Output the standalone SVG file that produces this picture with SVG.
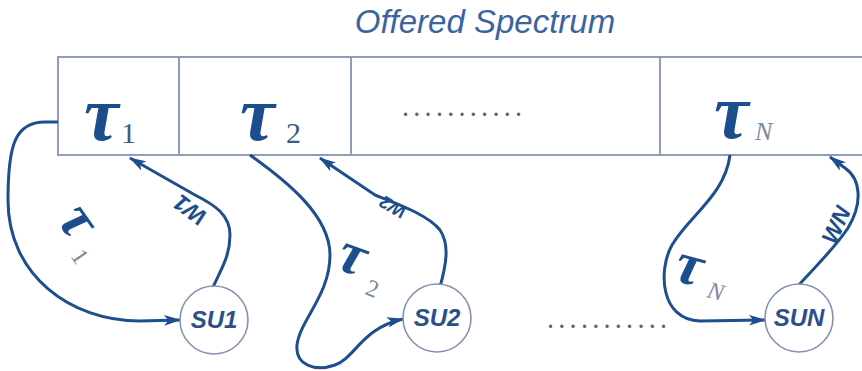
<svg xmlns="http://www.w3.org/2000/svg" width="862" height="371" viewBox="0 0 862 371">
<defs>
<style>
.title{font-family:"Liberation Sans",Arial,sans-serif;font-style:italic;font-size:33px;fill:#3a64a0}
.box{fill:none;stroke:#8d9dbb;stroke-width:2}
.tau{font-family:"Liberation Serif","DejaVu Serif",serif;font-style:italic;font-weight:bold;font-size:78px;fill:#1c4d8c}
.sub{font-family:"Liberation Serif",serif;font-size:30px;fill:#3d5a85}
.subn{font-family:"Liberation Serif",serif;font-style:italic;font-size:26px;fill:#7a8aa3}
.ltau{font-family:"Liberation Serif","DejaVu Serif",serif;font-style:italic;font-weight:bold;font-size:60px;fill:#1c4d8c}
.lsub{font-family:"Liberation Serif",serif;font-size:24px;fill:#7a8aa3}
.lsubn{font-family:"Liberation Serif",serif;font-style:italic;font-size:24px;fill:#7a8aa3}
.w{font-family:"Liberation Sans",Arial,sans-serif;font-style:italic;font-weight:bold;font-size:23px;fill:#1c4d8c}
.dots{font-family:"Liberation Serif",serif;font-weight:bold;font-size:20px;fill:#55627a;letter-spacing:6.3px}
.node circle{fill:#ffffff;stroke:#8392b0;stroke-width:1.6}
.node text{font-family:"Liberation Sans",Arial,sans-serif;font-style:italic;font-weight:bold;font-size:24px;fill:#2b4f88;text-anchor:middle}
.conn path{fill:none;stroke:#1d4f8f;stroke-width:3;marker-end:url(#arr)}
</style>
<marker id="arr" viewBox="0 0 16 10" refX="15" refY="5" markerWidth="17" markerHeight="11" markerUnits="userSpaceOnUse" orient="auto">
<path d="M0,0 L16,5 L0,10 L4,5 z" fill="#1d4f8f"/>
</marker>
</defs>
<rect width="862" height="371" fill="#ffffff"/>
<text class="title" x="485" y="33" text-anchor="middle">Offered Spectrum</text>
<g id="spectrum">
<path class="box" d="M870,57 L58,57 L58,155 L870,155"/>
<line class="box" x1="179" y1="57" x2="179" y2="155"/>
<line class="box" x1="351" y1="57" x2="351" y2="155"/>
<line class="box" x1="660" y1="57" x2="660" y2="155"/>
<text class="tau" x="84" y="140">τ</text><text class="sub" x="121" y="143">1</text>
<text class="tau" x="240" y="140">τ</text><text class="sub" x="286" y="143">2</text>
<text class="dots" x="403" y="116">...........</text>
<text class="tau" x="714" y="138">τ</text><text class="subn" x="755" y="140">N</text>
</g>
<g class="conn" id="connectors">
<path d="M58,122 L45,122 C15,122 8,145 8,200 C8,275 70,321 140,321 L180,320"/>
<path d="M213,287 C222,268 230,255 230,235 C230,215 215,205 195,195 L130,158"/>
<path d="M250,155 C285,180 330,215 330,255 C330,295 300,320 297,345 C295,365 315,372 335,365 C355,358 362,328 403,319"/>
<path d="M440,287 C446,265 450,245 440,230 C428,215 400,205 375,195 L320,158"/>
<path d="M730,155 C725,195 690,215 672,245 C658,270 660,320 700,321 L765,320"/>
<path d="M797,287 C812,270 835,248 848,228 C862,205 862,180 845,168 L830,157"/>
</g>
<g id="labels">
<text class="ltau" transform="translate(56,220) rotate(55)">τ</text>
<text class="lsub" transform="translate(70,256) rotate(55)">1</text>
<text class="w" transform="translate(190,210) rotate(217)" text-anchor="middle" dominant-baseline="central">W1</text>
<text class="ltau" transform="translate(334,268) rotate(20)">τ</text>
<text class="lsub" transform="translate(364,294) rotate(20)">2</text>
<text class="w" style="font-size:18px" transform="translate(393,207) rotate(210)" text-anchor="middle" dominant-baseline="central">W2</text>
<text class="ltau" transform="translate(672,280) rotate(15)">τ</text>
<text class="lsubn" transform="translate(706,297) rotate(15)">N</text>
<text class="w" transform="translate(836,225) rotate(-65)" text-anchor="middle" dominant-baseline="central">WN</text>
</g>
<g id="su1" class="node"><circle cx="214" cy="320" r="34"/><text x="214" y="328">SU1</text></g>
<g id="su2" class="node"><circle cx="437" cy="318" r="34"/><text x="437" y="326">SU2</text></g>
<g id="sun" class="node"><circle cx="799" cy="318" r="34"/><text x="799" y="326">SUN</text></g>
<text class="dots" x="548" y="328">...........</text>
</svg>
